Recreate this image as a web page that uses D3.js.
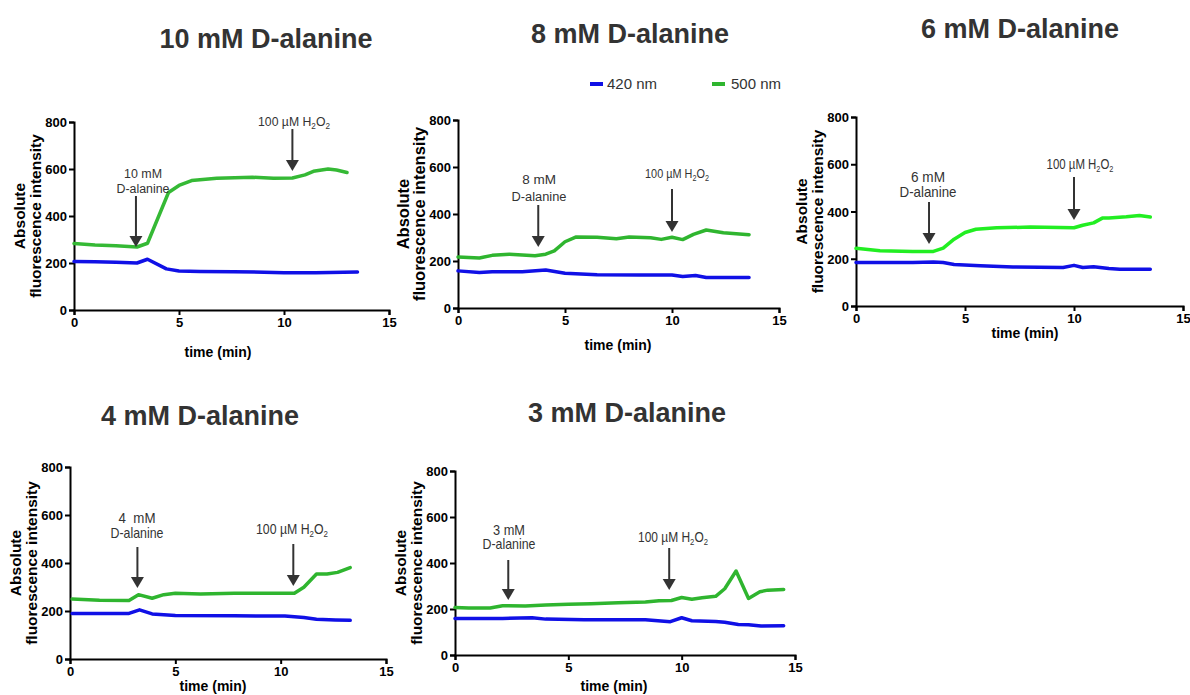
<!DOCTYPE html>
<html><head><meta charset="utf-8">
<script src="https://cdn.jsdelivr.net/npm/d3@7"></script>
<style>
body{margin:0;background:#fff;}
svg{display:block;}
.tick text{font-family:Arial,"Liberation Sans",sans-serif;font-weight:bold;font-size:13px;fill:#000;}
.narrow{font-family:Arial,"Liberation Sans",sans-serif;font-size:14px;fill:#333;}
</style></head>
<body><svg id="c" width="1190" height="695"></svg>
<script>
// ---------------- data ----------------
const titles = ["10 mM D-alanine","8 mM D-alanine","6 mM D-alanine","4 mM D-alanine","3 mM D-alanine"];
const doseLabels = ["10 mM","8 mM","6 mM","4\u00A0 mM","3 mM"];
const seriesNames = ["420 nm","500 nm"];
const xTicks = [0,5,10,15];
const yTicks = [0,200,400,600,800];
const dalaTimes = [2.95,3.75,3.35,3.2,2.35];
const h2o2Times = [10.4,10.0,10.0,10.6,9.45];

// 10 mM
const p10_t500 = [0,1,2,3.0,3.5,4.5,5.0,5.6,6.8,8.5,9.5,10.4,11.0,11.4,12.1,12.5,13.0];
const p10_v500 = [283,277,273,268,284,500,530,551,561,565,561,562,575,590,600,596,585];
const p10_t420 = [0,1,2,3.0,3.5,4.4,5.0,6.0,7.6,10,11.5,13.5];
const p10_v420 = [206,205,203,200,216,175,166,164,163,159,158,162];
// 8 mM
const p8_t500 = [0,1.0,1.6,2.4,3.0,3.6,4.1,4.5,5.0,5.5,6.5,7.4,8.0,9.0,9.5,10.0,10.5,11.0,11.6,12.4,13.6];
const p8_v500 = [217,213,224,229,226,222,229,243,282,302,301,295,302,299,292,301,291,313,332,320,312];
const p8_t420 = [0,1.0,1.6,3.0,4.1,5.0,6.5,8.5,10,10.5,11.1,11.6,13.6];
const p8_v420 = [158,151,154,154,162,148,141,140,140,134,138,130,130];
// 6 mM
const p6_t500 = [0,1.1,2.6,3.55,4.0,4.5,5.0,5.5,6.45,8.0,10.0,10.4,10.9,11.3,11.6,12.4,13.0,13.5];
const p6_v500 = [244,234,231,231,245,283,311,325,331,334,331,342,352,372,373,378,383,377];
const p6_t420 = [0,2.6,3.55,4.0,4.5,5.7,7.2,9.5,10.0,10.4,10.9,11.6,12.1,13.5];
const p6_v420 = [184,184,186,184,176,170,165,163,172,163,166,159,156,156];
// 4 mM
const p4_t500 = [0.1,1.4,2.8,3.25,3.9,4.45,5.0,6.2,7.8,10.2,10.65,11.1,11.7,12.2,12.7,13.3];
const p4_v500 = [250,245,244,268,253,268,274,271,274,274,274,299,354,354,361,381];
const p4_t420 = [0.1,2.8,3.3,3.9,5.0,7.8,10.2,11.1,11.7,12.6,13.3];
const p4_v420 = [190,190,205,188,181,180,179,173,166,163,161];
// 3 mM
const p3_t500 = [0,0.6,1.55,2.1,3.1,4.0,5.0,6.0,7.2,8.4,9.0,9.55,10.0,10.45,10.9,11.5,11.9,12.4,12.95,13.45,13.8,14.5];
const p3_v500 = [207,204,204,214,213,217,221,223,227,230,236,237,250,242,249,255,288,365,246,275,282,285];
const p3_t420 = [0,2.1,3.4,4.0,5.7,8.4,9.5,10.0,10.45,11.5,11.9,12.5,12.95,13.5,14.5];
const p3_v420 = [159,159,162,156,153,153,145,162,149,146,142,133,132,126,127];

// ---------------- layout (pixels / styles) ----------------
const layouts = [
 {xL:74,xR:389,yB:310,yT:122,tX:266,tY:48,xlX:218,xlY:357,ylFs:15.5,green:"#35b935",
  dTxtX:143,dTxtY:[178,193],dTop:196,dTip:247,hTxtX:294,hTxtY:126,hTop:129,hTip:171,
  wDose:38,wDala:53,wH:72,fs:13.5},
 {xL:458,xR:779,yB:308,yT:120,tX:630,tY:43,xlX:618,xlY:350,ylFs:16.5,green:"#2fb52f",
  dTxtX:539,dTxtY:[184,201],dTop:205,dTip:247,hTxtX:677,hTxtY:178,hTop:189,hTip:232,
  wDose:34,wDala:55,wH:64,fs:13.5},
 {xL:856,xR:1183,yB:306,yT:117,tX:1020,tY:38,xlX:1025,xlY:338,ylFs:15.5,green:"#22ee22",
  dTxtX:928,dTxtY:[182,197],dTop:202,dTip:244,hTxtX:1080,hTxtY:169,hTop:177,hTip:220,
  wDose:34,wDala:57,wH:67,fs:14},
 {xL:70,xR:386,yB:659,yT:467,tX:200,tY:425,xlX:213,xlY:691,ylFs:15.5,green:"#2fb52f",
  dTxtX:137,dTxtY:[523,538],dTop:547,dTip:588,hTxtX:292,hTxtY:534,hTop:544,hTip:586,
  wDose:37,wDala:53,wH:72,fs:14},
 {xL:455,xR:795,yB:655,yT:471,tX:627,tY:422,xlX:614,xlY:691,ylFs:15.5,green:"#2fb52f",
  dTxtX:509,dTxtY:[535,549],dTop:560,dTip:600,hTxtX:673,hTxtY:542,hTop:548,hTip:590,
  wDose:32,wDala:53,wH:70,fs:14}
];
const blue = "#1010e6";
const dark = "#333";

const series = [
 [p10_t500,p10_v500,p10_t420,p10_v420],
 [p8_t500,p8_v500,p8_t420,p8_v420],
 [p6_t500,p6_v500,p6_t420,p6_v420],
 [p4_t500,p4_v500,p4_t420,p4_v420],
 [p3_t500,p3_v500,p3_t420,p3_v420]
];

const svg = d3.select("#c");
svg.append("rect").attr("width",1190).attr("height",695).attr("fill","#fff");

// squeeze a text horizontally to a target width (condensed look)
function fit(t, cx, y, w){
  const nat = t.node().getComputedTextLength();
  const sx = Math.min(1, w / nat);
  t.attr("x",0).attr("y",0).attr("text-anchor","middle")
   .attr("transform",`translate(${cx},${y}) scale(${sx},1)`);
}
function plainLabel(sel, txt, cx, y, w, fs){
  const t = sel.append("text").attr("class","narrow").style("font-size",fs+"px").text(txt);
  fit(t, cx, y, w);
}
function h2Label(sel, cx, y, w, fs){
  const t = sel.append("text").attr("class","narrow").style("font-size",fs+"px");
  t.append("tspan").text("100 \u00B5M H");
  t.append("tspan").style("font-size","9px").attr("dy",3).text("2");
  t.append("tspan").attr("dy",-3).text("O");
  t.append("tspan").style("font-size","9px").attr("dy",3).text("2");
  fit(t, cx, y, w);
}
function arrow(sel, x, top, tip){
  sel.append("line").attr("x1",x).attr("x2",x).attr("y1",top).attr("y2",tip-8)
    .attr("stroke",dark).attr("stroke-width",2);
  sel.append("path").attr("d",`M${x-6.5},${tip-11}L${x+6.5},${tip-11}L${x},${tip}Z`).attr("fill",dark);
}

series.forEach((s,i)=>{
  const L = layouts[i];
  const x = d3.scaleLinear().domain([0,15]).range([L.xL,L.xR]);
  const y = d3.scaleLinear().domain([0,800]).range([L.yB,L.yT]);
  const g = svg.append("g");

  // title
  g.append("text").attr("x",L.tX).attr("y",L.tY).attr("text-anchor","middle")
   .attr("font-family","Arial,'Liberation Sans',sans-serif").attr("font-weight","bold")
   .attr("font-size","27px").attr("fill",dark).text(titles[i]);

  // axes
  const xa = g.append("g").attr("transform",`translate(0,${L.yB})`)
    .call(d3.axisBottom(x).tickValues(xTicks).tickSizeOuter(0).tickSize(5).tickPadding(3));
  const ya = g.append("g").attr("transform",`translate(${L.xL},0)`)
    .call(d3.axisLeft(y).tickValues(yTicks).tickSizeOuter(0).tickSize(5).tickPadding(2));
  [xa,ya].forEach(a=>{
    a.select(".domain").attr("stroke","#000").attr("stroke-width",2);
    a.selectAll(".tick line").attr("stroke","#000").attr("stroke-width",2);
  });
  ya.selectAll(".tick text").attr("dy","0.36em");

  // axis labels
  g.append("text").attr("x",L.xlX).attr("y",L.xlY).attr("text-anchor","middle")
   .attr("font-family","Arial,'Liberation Sans',sans-serif").attr("font-weight","bold")
   .attr("font-size","14px").attr("fill","#000").text("time (min)");
  const yc = (L.yB+L.yT)/2;
  [["Absolute",-55],["fluorescence intensity",-39]].forEach(([txt,off])=>{
    g.append("text").attr("transform",`translate(${L.xL+off},${yc}) rotate(-90)`)
     .attr("text-anchor","middle").attr("dominant-baseline","central")
     .attr("font-family","Arial,'Liberation Sans',sans-serif").attr("font-weight","bold")
     .attr("font-size",L.ylFs+"px").attr("fill","#000").text(txt);
  });

  // lines
  const line = d3.line().x(d=>x(d[0])).y(d=>y(d[1]));
  const d420 = s[2].map((t,k)=>[t,s[3][k]]);
  const d500 = s[0].map((t,k)=>[t,s[1][k]]);
  g.append("path").attr("d",line(d420)).attr("fill","none").attr("stroke",blue)
   .attr("stroke-width",3.5).attr("stroke-linejoin","round").attr("stroke-linecap","round");
  g.append("path").attr("d",line(d500)).attr("fill","none").attr("stroke",L.green)
   .attr("stroke-width",3.5).attr("stroke-linejoin","round").attr("stroke-linecap","round");

  // annotations
  plainLabel(g, doseLabels[i], L.dTxtX, L.dTxtY[0], L.wDose, L.fs);
  plainLabel(g, "D-alanine", L.dTxtX, L.dTxtY[1], L.wDala, L.fs);
  arrow(g, x(dalaTimes[i]), L.dTop, L.dTip);
  h2Label(g, L.hTxtX, L.hTxtY, L.wH, L.fs);
  arrow(g, x(h2o2Times[i]), L.hTop, L.hTip);
});

// legend
const leg = svg.append("g");
[[590,607,blue],[712,731,"#2fb52f"]].forEach(([x0,tx,c],k)=>{
  leg.append("line").attr("x1",x0).attr("x2",x0+13).attr("y1",84).attr("y2",84)
     .attr("stroke",c).attr("stroke-width",4);
  leg.append("text").attr("x",tx).attr("y",89).attr("font-family","Arial,'Liberation Sans',sans-serif")
     .attr("font-size","15px").attr("fill",dark).text(seriesNames[k]);
});
</script></body></html>
